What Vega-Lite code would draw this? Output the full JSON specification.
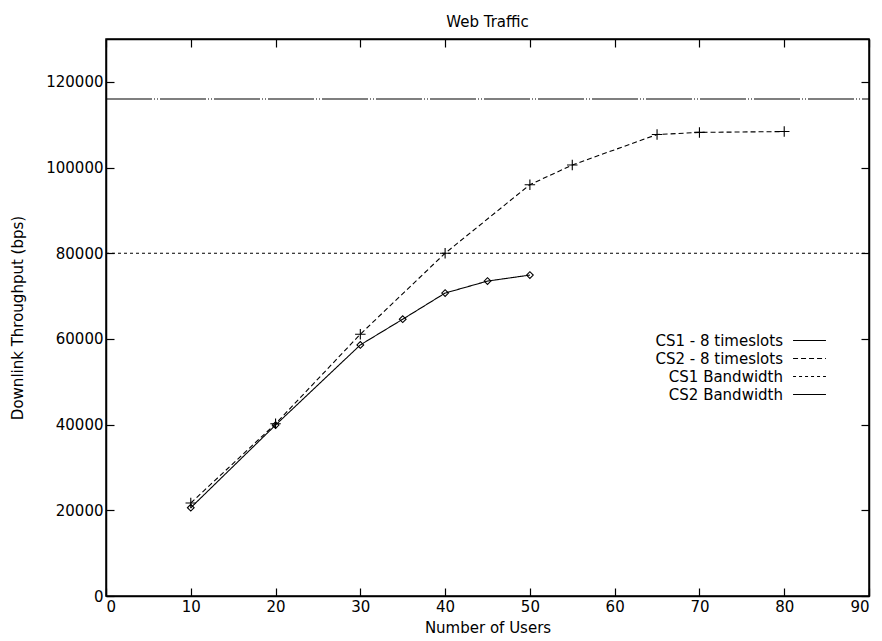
{
  "$schema": "https://vega.github.io/schema/vega-lite/v6.json",
  "width": 763,
  "height": 557,
  "autosize": "none",
  "padding": {"left": 106, "top": 39, "right": 13, "bottom": 45},
  "background": "white",
  "title": {"text": "Web Traffic", "font": "DejaVu Sans", "fontSize": 15, "fontWeight": "normal", "color": "black", "offset": 8},
  "config": {
    "view": {"stroke": "black", "strokeWidth": 1.5},
    "axis": {"grid": false, "domainColor": "black", "domainWidth": 1.5, "tickColor": "black", "tickWidth": 1.2, "labelFont": "DejaVu Sans", "labelFontSize": 15, "titleFont": "DejaVu Sans", "titleFontSize": 15, "titleFontWeight": "normal", "labelColor": "black", "titleColor": "black"},
    "legend": {"labelFont": "DejaVu Sans", "labelFontSize": 15, "labelColor": "black"}
  },
  "data": {"values": [
    {"series": "CS1 - 8 timeslots", "users": 10, "bps": 20600},
    {"series": "CS1 - 8 timeslots", "users": 20, "bps": 39900},
    {"series": "CS1 - 8 timeslots", "users": 30, "bps": 58600},
    {"series": "CS1 - 8 timeslots", "users": 35, "bps": 64600},
    {"series": "CS1 - 8 timeslots", "users": 40, "bps": 70700},
    {"series": "CS1 - 8 timeslots", "users": 45, "bps": 73500},
    {"series": "CS1 - 8 timeslots", "users": 50, "bps": 74900},
    {"series": "CS2 - 8 timeslots", "users": 10, "bps": 21700},
    {"series": "CS2 - 8 timeslots", "users": 20, "bps": 40200},
    {"series": "CS2 - 8 timeslots", "users": 30, "bps": 61100},
    {"series": "CS2 - 8 timeslots", "users": 40, "bps": 80000},
    {"series": "CS2 - 8 timeslots", "users": 50, "bps": 96000},
    {"series": "CS2 - 8 timeslots", "users": 55, "bps": 100600},
    {"series": "CS2 - 8 timeslots", "users": 65, "bps": 107700},
    {"series": "CS2 - 8 timeslots", "users": 70, "bps": 108200},
    {"series": "CS2 - 8 timeslots", "users": 80, "bps": 108400},
    {"series": "CS1 Bandwidth", "users": 0, "bps": 80000},
    {"series": "CS1 Bandwidth", "users": 90, "bps": 80000},
    {"series": "CS2 Bandwidth", "users": 0, "bps": 116000},
    {"series": "CS2 Bandwidth", "users": 90, "bps": 116000}
  ]},
  "layer": [
    {
      "mark": {"type": "line", "color": "black", "strokeWidth": 1.1},
      "encoding": {
        "x": {"field": "users", "type": "quantitative", "scale": {"domain": [0, 90], "nice": false, "zero": false},
              "axis": {"orient": "bottom", "values": [0, 10, 20, 30, 40, 50, 60, 70, 80, 90], "tickSize": -8, "labelPadding": 11, "title": "Number of Users", "titlePadding": 6}},
        "y": {"field": "bps", "type": "quantitative", "scale": {"domain": [0, 130000], "nice": false},
              "axis": {"orient": "left", "values": [0, 20000, 40000, 60000, 80000, 100000, 120000], "format": "d", "tickSize": -8, "labelPadding": 11, "title": "Downlink Throughput (bps)", "titlePadding": 20}},
        "strokeDash": {"field": "series", "type": "nominal",
          "scale": {"domain": ["CS1 - 8 timeslots", "CS2 - 8 timeslots", "CS1 Bandwidth", "CS2 Bandwidth"],
                    "range": [[1, 0], [5, 3], [3, 3], [46, 2, 1, 2, 1, 2]]},
          "legend": {"title": null, "orient": "none", "legendX": 694, "legendY": 292, "symbolType": "M-1.9,0H1.9", "symbolSize": 300, "symbolStrokeColor": "black", "symbolStrokeWidth": 1.1, "labelAlign": "right", "labelOffset": -36, "rowPadding": -1}}
      }
    },
    {
      "transform": [{"filter": "datum.series != 'CS1 Bandwidth' && datum.series != 'CS2 Bandwidth'"}],
      "mark": {"type": "point", "filled": false, "color": "black", "strokeWidth": 1.1, "opacity": 1},
      "encoding": {
        "x": {"field": "users", "type": "quantitative",
              "axis": {"orient": "top", "values": [0, 10, 20, 30, 40, 50, 60, 70, 80, 90], "tickSize": -8, "labels": false, "title": null}},
        "y": {"field": "bps", "type": "quantitative",
              "axis": {"orient": "right", "values": [0, 20000, 40000, 60000, 80000, 100000, 120000], "tickSize": -8, "labels": false, "title": null}},
        "shape": {"field": "series", "type": "nominal",
          "scale": {"domain": ["CS1 - 8 timeslots", "CS2 - 8 timeslots"], "range": ["diamond", "M-1,0H1M0,-1V1"]},
          "legend": null},
        "size": {"field": "series", "type": "nominal",
          "scale": {"domain": ["CS1 - 8 timeslots", "CS2 - 8 timeslots"], "range": [45, 110]},
          "legend": null}
      }
    }
  ],
  "resolve": {"axis": {"x": "independent", "y": "independent"}}
}
